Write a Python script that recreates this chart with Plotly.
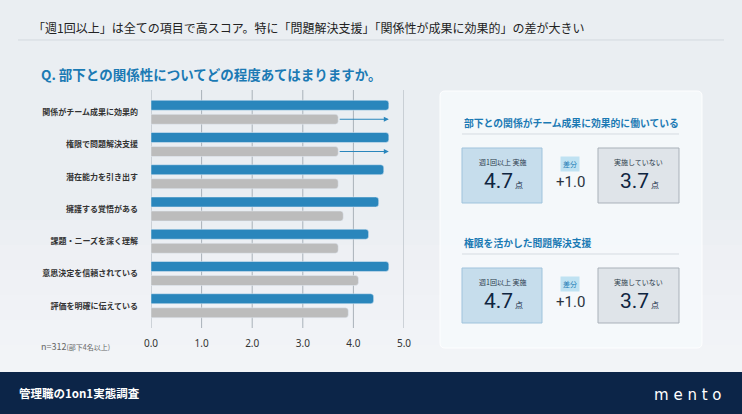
import plotly.graph_objects as go

# ---- data ----
items = [
    '関係がチーム成果に効果的',
    '権限で問題解決支援',
    '潜在能力を引き出す',
    '擁護する覚悟がある',
    '課題・ニーズを深く理解',
    '意思決定を信頼されている',
    '評価を明確に伝えている',
]
weekly = [4.7, 4.7, 4.6, 4.5, 4.3, 4.7, 4.4]      # 週1回以上 実施
not_done = [3.7, 3.7, 3.7, 3.8, 3.7, 4.1, 3.9]    # 実施していない
x_ticks = [0, 1, 2, 3, 4, 5]
x_ticklabels = ['0.0', '1.0', '2.0', '3.0', '4.0', '5.0']

highlight_idx = [0, 1]
highlight_titles = ['部下との関係がチーム成果に効果的に働いている', '権限を活かした問題解決支援']

title_text = '「週1回以上」は全ての項目で高スコア。特に「問題解決支援」「関係性が成果に効果的」の差が大きい'
question_text = 'Q. 部下との関係性についてどの程度あてはまりますか。'

FONT = 'Noto Sans CJK JP'
BLUE = '#2a86bc'
GRAY = '#bcbcbc'
HEAD_BLUE = '#1b7ab4'
NAVY = '#0c2548'

# ---- pixel helpers (page is 742x414) ----
W, H = 742, 414
L, R, T, B = 151, 338, 90, 86
PW, PH = W - L - R, H - T - B


def px(x):
    return (x - L) / PW


def py(y):
    return (H - B - y) / PH


fig = go.Figure()

# grid lines as a trace on the base subplot, so the bars (on y2) sit on top
gx, gy = [], []
for t in x_ticks:
    gx += [t, t, None]
    gy += [0, 1, None]
fig.add_trace(go.Scatter(x=gx, y=gy, mode='lines', yaxis='y',
                         line=dict(color='#a9b1b9', width=1), hoverinfo='skip'))

fig.add_trace(go.Bar(
    y=items, x=weekly, orientation='h', name='週1回以上 実施', yaxis='y2',
    marker=dict(color=BLUE, cornerradius=3), hoverinfo='x+y'
))
fig.add_trace(go.Bar(
    y=items, x=not_done, orientation='h', name='実施していない', yaxis='y2',
    marker=dict(color=GRAY, cornerradius=3), hoverinfo='x+y'
))

shapes = []
annotations = []

# lighter, snowy lower half of the background
for i in range(6):
    y_top = 220 + i * 25
    shapes.append(dict(type='rect', xref='paper', yref='paper', layer='below',
                       x0=px(0), x1=px(W), y0=py(372), y1=py(y_top),
                       fillcolor='white', opacity=0.1, line=dict(width=0)))

# top divider
shapes.append(dict(type='line', xref='paper', yref='paper',
                   x0=px(18), x1=px(724), y0=py(40), y1=py(40),
                   line=dict(color='#d3d9df', width=1)))

# right panel (rounded)
x0, x1, y0, y1 = px(440), px(702), py(348), py(91)
rx, ry = 5 / PW, 5 / PH
panel_path = (f'M {x0+rx},{y0} L {x1-rx},{y0} Q {x1},{y0} {x1},{y0+ry} '
              f'L {x1},{y1-ry} Q {x1},{y1} {x1-rx},{y1} L {x0+rx},{y1} '
              f'Q {x0},{y1} {x0},{y1-ry} L {x0},{y0+ry} Q {x0},{y0} {x0+rx},{y0} Z')
shapes.append(dict(type='path', xref='paper', yref='paper', path=panel_path,
                   fillcolor='rgba(246,249,251,0.85)', line=dict(color='rgba(255,255,255,0.9)', width=1)))

# footer
shapes.append(dict(type='rect', xref='paper', yref='paper',
                   x0=px(0), x1=px(W), y0=py(H), y1=py(372),
                   fillcolor=NAVY, line=dict(width=0)))

# panel blocks
block_tops = [123, 243]
for k, idx in enumerate(highlight_idx):
    top = block_tops[k]
    a, b = weekly[idx], not_done[idx]
    annotations.append(dict(text=f'<b>{highlight_titles[k]}</b>', x=px(462), y=py(top),
                            xanchor='left', yanchor='middle',
                            font=dict(size=9.8, color=HEAD_BLUE)))
    shapes.append(dict(type='line', xref='paper', yref='paper',
                       x0=px(462), x1=px(679), y0=py(top + 11), y1=py(top + 11),
                       line=dict(color='#d5dbe1', width=1)))
    bt, bb = top + 25, top + 80
    shapes.append(dict(type='rect', xref='paper', yref='paper',
                       x0=px(462), x1=px(542), y0=py(bb), y1=py(bt),
                       fillcolor='#c6ddec', line=dict(color='#9fc3dc', width=1)))
    shapes.append(dict(type='rect', xref='paper', yref='paper',
                       x0=px(598), x1=px(679), y0=py(bb), y1=py(bt),
                       fillcolor='#dfe4e9', line=dict(color='#a9b1b9', width=1)))
    for cx, lab, val in [(502, '週1回以上 実施', a), (638.5, '実施していない', b)]:
        annotations.append(dict(text=lab, x=px(cx), y=py(top + 39), xanchor='center', yanchor='middle',
                                font=dict(size=7, color='#2b3a4a')))
        annotations.append(dict(text=f'{val:.1f}<span style="font-size:8px; font-family:Noto Sans CJK JP"> 点</span>',
                                x=px(cx + 1), y=py(top + 58), xanchor='center', yanchor='middle',
                                font=dict(size=21, color='#0f2540', family='Roboto')))
    annotations.append(dict(text='差分', x=px(570), y=py(top + 41), xanchor='center', yanchor='middle',
                            font=dict(size=7, color=HEAD_BLUE), bgcolor='#bfe2f2',
                            borderpad=2))
    annotations.append(dict(text=f'+{a - b:.1f}', x=px(570), y=py(top + 59),
                            xanchor='center', yanchor='middle',
                            font=dict(size=15, color='#2b3440', family='Roboto')))

# arrows from "not done" to "weekly" for the highlighted items
for idx in highlight_idx:
    annotations.append(dict(x=weekly[idx], y=items[idx], ax=not_done[idx], ay=items[idx],
                            xref='x', yref='y2', axref='x', ayref='y2', text='',
                            showarrow=True, arrowhead=2, arrowsize=1, arrowwidth=1,
                            arrowcolor=BLUE, standoff=0, yshift=-7))

# titles and notes
annotations.append(dict(text=title_text, x=px(31), y=py(27), xanchor='left', yanchor='middle',
                        font=dict(size=12, color='#222')))
annotations.append(dict(text=f'<b>{question_text}</b>', x=px(39), y=py(74),
                        xanchor='left', yanchor='middle', font=dict(size=13.5, color=HEAD_BLUE)))
annotations.append(dict(text='n=312<span style="font-size:7px">(部下4名以上)</span>',
                        x=px(39), y=py(346), xanchor='left', yanchor='middle',
                        font=dict(size=9, color='#666')))
annotations.append(dict(text='<b>管理職の1on1実態調査</b>', x=px(17), y=py(393),
                        xanchor='left', yanchor='middle', font=dict(size=11.5, color='white')))
annotations.append(dict(text='m e n t o', x=px(723), y=py(395),
                        xanchor='right', yanchor='middle',
                        font=dict(size=15, color='white', family='DejaVu Sans')))

for a in annotations:
    if 'xref' not in a:
        a['xref'] = 'paper'
        a['yref'] = 'paper'
        a['showarrow'] = False

n = len(items)
fig.update_layout(
    width=W, height=H,
    margin=dict(l=L, r=R, t=T, b=B),
    paper_bgcolor='#eaeef2',
    plot_bgcolor='rgba(0,0,0,0)',
    font=dict(family=FONT, color='#333'),
    barmode='group', bargap=0.13, bargroupgap=0.29,
    showlegend=False,
    xaxis=dict(range=[0, 5], tickvals=x_ticks, ticktext=x_ticklabels,
               showgrid=False, zeroline=False,
               showline=False, ticks='', ticklabelstandoff=8,
               tickfont=dict(size=10, color='#333', family='Noto Sans')),
    yaxis=dict(range=[0, 1], visible=False, fixedrange=True),
    yaxis2=dict(range=[n - 1 + 0.69, -0.69], overlaying='y', side='left', anchor='x',
                type='category', showgrid=False, zeroline=False,
                ticks='', ticklabelstandoff=12,
                tickfont=dict(size=8, color='#333', weight='bold')),
    shapes=shapes,
    annotations=annotations,
)

fig.write_html('out.html', config={'displayModeBar': False},
               post_script="document.body.style.margin='0';")
